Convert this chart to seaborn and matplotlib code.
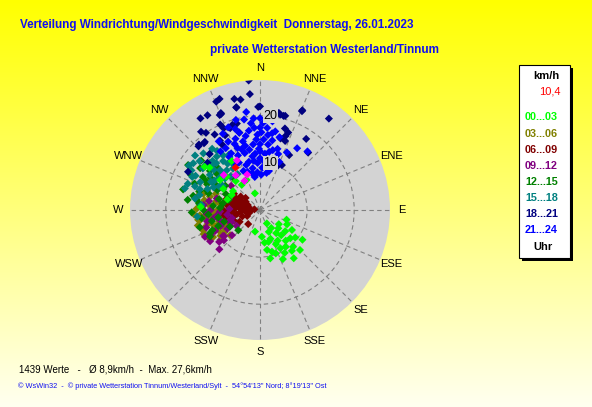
import numpy as np
import pandas as pd
import seaborn as sns
import matplotlib.pyplot as plt
from matplotlib.patches import Rectangle

# Messwerte (Windrichtung in Grad, Geschwindigkeit km/h) je Zeitabschnitt
pts_00_03 = [(110, 6), (122, 8), (170, 8.6), (164, 9.2), (152, 9.2), (133, 8.8), (176, 5.7),
             (153, 3.2), (193, 4.7), (145, 6), (140, 7), (150, 7.5), (135, 5.5), (160, 6.5),
             (155, 8), (145, 9.5), (138, 10.5), (128, 9.5), (158, 5), (148, 4.5), (165, 7),
             (130, 7), (142, 11), (150, 10.5), (118, 6.5), (127, 5), (168, 10.5), (135, 12),
             (145, 12.5), (155, 11.5), (160, 9.8), (172, 7), (140, 8.5), (125, 11),
             (343, 3.7), (336, 7), (324, 6.6), (307, 10.6), (298, 6.8), (320, 8), (315, 10),
             (330, 12), (300, 9), (310, 14), (305, 7), (308, 14.9), (288, 7.3), (273, 12.6)]
pts_03_06 = [(261, 13.3), (265, 12.8), (268, 11), (244, 9.8), (260, 13), (256, 13.6), (230, 8.3),
             (242, 8.4), (250, 10), (255, 11.5), (262, 10), (270, 9), (275, 10.5), (280, 12),
             (285, 11), (248, 8), (258, 9), (238, 9), (233, 10.5), (252, 12.5), (266, 14),
             (278, 8.5), (290, 10), (240, 11.5), (247, 13), (273, 12.3), (283, 13.5),
             (263, 12), (271, 13.5), (276, 11), (254, 9), (245, 11), (237, 10), (250, 12.8),
             (268, 10), (281, 9.5), (259, 11), (243, 12.5), (286, 12.5), (253, 10.5), (264, 9.5)]
pts_06_09 = [(270, 2), (275, 3), (280, 4), (285, 5), (290, 6), (295, 4.5), (300, 3.5), (265, 4),
             (260, 5), (255, 6), (268, 6.5), (278, 7), (288, 7.5), (298, 6.5), (305, 5), (250, 4),
             (245, 3), (262, 3), (272, 5.5), (283, 2.5), (292, 2.8), (220, 3.9), (263, 5.7),
             (294, 4.3), (258, 7), (248, 6), (277, 1.2), (286, 3.8), (274, 4.2), (266, 7.2),
             (310, 4), (240, 5), (282, 6), (296, 5.6), (254, 2.5), (280, 5), (290, 5),
             (286, 6.5), (276, 6), (271, 4), (264, 2), (292, 3.8), (300, 5), (302, 6.5), (284, 4),
             (270, 7.8), (280, 8), (262, 7.8), (255, 7.5), (290, 7)]
pts_09_12 = [(266, 11.4), (235, 9.6), (243, 11.7), (234, 9.4), (256, 8.8), (250, 7), (260, 10),
             (247, 6.5), (240, 8), (232, 11), (228, 8), (238, 12.5), (245, 10.5), (252, 12),
             (258, 11.5), (264, 9), (270, 10.5), (275, 12), (280, 11), (285, 9.5), (242, 7.2),
             (236, 6), (248, 9), (254, 6.2), (262, 7), (268, 8.5), (230, 10), (226, 12),
             (244, 13), (272, 6.5), (300, 9), (310, 8), (290, 7)]
pts_12_15 = [(285, 16.9), (254, 13.3), (247, 11), (242, 12), (279, 13.6), (302, 18), (310, 16.3),
             (227, 6.3), (241, 7.3), (245, 11.7), (290, 12), (295, 10), (300, 11), (305, 9),
             (285, 9), (275, 10), (270, 12), (265, 11), (280, 8), (300, 14), (310, 12), (315, 13),
             (292, 15), (260, 9), (252, 8), (288, 11.5), (298, 13), (305, 15.5), (320, 9),
             (268, 14.5), (282, 14.5), (276, 13), (287, 13.5), (296, 12.5), (303, 12.5),
             (312, 10.5), (295, 8), (288, 7), (273, 8.5), (262, 12.5), (257, 10.5), (249, 9.5),
             (278, 15.5), (297, 16.5), (308, 13.5)]
pts_15_18 = [(305, 17.3), (302, 17.8), (286, 16.6), (290, 16.3), (290, 14.7), (284, 13.2),
             (264, 13.4), (317, 13.6), (321, 14.6), (310, 15), (315, 12), (320, 11), (325, 12),
             (312, 10), (300, 12), (305, 13), (295, 14), (308, 11), (318, 16), (322, 16.5),
             (298, 15.5), (326, 14), (330, 11), (313, 14), (303, 9.5), (328, 9), (296, 11),
             (292, 12), (310, 18), (315, 17), (280, 14), (275, 12.5), (300, 10), (306, 15),
             (311, 13), (316, 14.5), (323, 13), (319, 9.5), (327, 10.5), (296, 16), (289, 13.5),
             (300, 16.8), (309, 16.5), (314, 11), (303, 11.5), (324, 15.5), (331, 13.5)]
pts_18_21 = [(355, 27.6), (340, 25.1), (347, 24.2), (350, 23.8), (347, 22.3), (327, 23.2),
             (331, 23), (23, 22.8), (37, 24.3), (11, 21), (14, 20.6), (40, 15.9), (19, 16.6),
             (20, 17.5), (16, 15.8), (317, 19), (320, 18.5), (26, 10.6), (28, 13.2), (335, 20),
             (342, 19), (0, 22), (338, 22), (325, 20), (330, 17), (318, 16), (312, 15),
             (345, 17), (33, 18), (338, 24.8), (17, 18.1), (337, 21.9), (316, 18.8),
             (321, 18.6), (22, 10.2), (355, 24.7), (298, 17.3), (338, 22.2), (347, 22.4),
             (359, 21.9), (12, 20.7), (15, 20.7), (23, 23), (20, 15.6), (323, 20.8), (329, 18.7),
             (335, 17.5), (340, 18.5), (345, 19), (330, 16), (336, 19)]
pts_21_24 = [(350, 13), (355, 12), (345, 12.5), (0, 14), (5, 12), (358, 16), (352, 17), (346, 15),
             (340, 14), (10, 15), (12, 13), (5, 17.5), (2, 18.5), (356, 19.5), (350, 19.5),
             (343, 18), (335, 16), (15, 16), (14, 11), (12, 10), (3, 9), (357, 10), (350, 9),
             (343, 10), (336, 11), (330, 13), (326, 15), (352, 21), (345, 19.8), (339, 18.8),
             (8, 9.5), (0, 11), (354, 14), (6, 16), (22, 11), (351, 7.1), (348, 8), (342, 8.5),
             (10, 8), (345, 17), (0, 17.5), (7, 14), (11, 17), (16, 13.5), (333, 13.5),
             (329, 17), (338, 12.5), (353, 10.5), (4, 10.5), (9, 12.5), (359, 13), (347, 14),
             (341, 16), (0, 19.5), (357, 15), (3, 15), (9, 16.5), (349, 16), (343, 13.5),
             (0, 12.5), (6, 11), (352, 11.5), (347, 10.5), (354, 18.5), (339, 15), (1, 16.5),
             (356, 17.5), (331, 15), (334, 18), (39, 16), (31, 15.3), (25, 13.5), (18, 12.5),
             (356, 8), (2, 7.5), (13, 8.5), (8, 19), (332, 11), (337, 9)]
pts_letzte = [(335, 11.6), (332, 7), (314, 10.7), (325, 9), (340, 8)]
pts_aktuell = [(330, 10.4)]

zeit_labels = ['00...03', '03...06', '06...09', '09...12', '12...15', '15...18', '18...21', '21...24']
zeit_farben = ['#00ff00', '#808000', '#800000', '#800080', '#008000', '#008080', '#000080', '#0000ff']
richtungen = ['N', 'NNE', 'NE', 'ENE', 'E', 'ESE', 'SE', 'SSE',
              'S', 'SSW', 'SW', 'WSW', 'W', 'WNW', 'NW', 'NNW']
ringe = [10, 20]
max_kmh = 27.6
aktuell_text = '10,4'

gruppen = dict(zip(zeit_labels, [pts_00_03, pts_03_06, pts_06_09, pts_09_12,
                                 pts_12_15, pts_15_18, pts_18_21, pts_21_24]))
gruppen['letzte'] = pts_letzte
gruppen['aktuell'] = pts_aktuell
palette = dict(zip(zeit_labels, zeit_farben))
palette['letzte'] = '#ff00ff'
palette['aktuell'] = '#ff0000'

# Zeichenreihenfolge: die frühen Werte (00...03) liegen sichtbar obenauf
reihenfolge = zeit_labels[1:] + [zeit_labels[0], 'letzte', 'aktuell']
frames = []
for name in reihenfolge:
    d = pd.DataFrame(gruppen[name], columns=['grad', 'kmh'])
    d['zeit'] = name
    frames.append(d)
df = pd.concat(frames, ignore_index=True)
df['theta'] = np.deg2rad(df['grad'])

W, H = 592, 407
fig = plt.figure(figsize=(W / 100, H / 100), dpi=100)


def fx(x):
    return x / W


def fy(y):
    return 1 - y / H


# Hintergrund: gelber Verlauf
bg = fig.add_axes([0, 0, 1, 1], zorder=0)
grad = np.linspace(0, 1, 256).reshape(-1, 1)
rgb = np.ones((256, 1, 3))
rgb[:, 0, 2] = grad[:, 0] * 0.94
bg.imshow(rgb, aspect='auto', extent=[0, 1, 0, 1])
bg.axis('off')

# Polardiagramm
cx, cy, rad = 260, 210, 130
flaeche = '#d3d3d3'
ax = fig.add_axes([fx(cx - rad), fy(cy + rad), 2 * rad / W, 2 * rad / H],
                  projection='polar', zorder=1)
ax.set_facecolor(flaeche)
ax.set_theta_zero_location('N')
ax.set_theta_direction(-1)

sns.scatterplot(data=df, x='theta', y='kmh', hue='zeit', palette=palette,
                marker='D', s=17, linewidth=0, legend=False, ax=ax, zorder=3)
ax.set_xlabel('')
ax.set_ylabel('')
ax.set_ylim(0, max_kmh)
ax.spines['polar'].set_visible(False)
ax.set_thetagrids(np.arange(0, 360, 22.5), labels=[''] * 16)
ax.set_rgrids(ringe, labels=[''] * len(ringe))
ax.grid(True, color='#808080', linestyle=(0, (4, 3)), linewidth=0.8)
ax.tick_params(axis='both', length=0)

for i, name in enumerate(richtungen):
    ax.text(np.deg2rad(i * 22.5), max_kmh * 1.092, name, ha='center', va='center',
            fontsize=8, family='Liberation Sans', clip_on=False)
for r in ringe:
    ax.annotate(str(r), xy=(0, r), xytext=(7.5, 0), textcoords='offset points',
                ha='center', va='center', fontsize=9, family='Liberation Sans', zorder=10,
                bbox=dict(facecolor=flaeche, edgecolor='none', pad=0.6))

# Titel
blau = '#1010f0'
fig.text(fx(20), fy(25), 'Verteilung Windrichtung/Windgeschwindigkeit  Donnerstag, 26.01.2023',
         color=blau, fontsize=8.4, weight='bold', family='Liberation Sans', va='center', ha='left')
fig.text(fx(210), fy(50), 'private Wetterstation Westerland/Tinnum',
         color=blau, fontsize=8.5, weight='bold', family='Liberation Sans', va='center', ha='left')

# Legende
fig.add_artist(Rectangle((fx(522), fy(261)), (570 - 519) / W, (258 - 65) / H,
                         transform=fig.transFigure, facecolor='black', edgecolor='none', zorder=5))
fig.add_artist(Rectangle((fx(519), fy(258)), (570 - 519) / W, (258 - 65) / H,
                         transform=fig.transFigure, facecolor='white', edgecolor='black',
                         linewidth=0.8, zorder=6))
fig.text(fx(546), fy(76), 'km/h', fontsize=8, weight='bold', family='Liberation Sans',
         ha='center', va='center', zorder=7)
fig.text(fx(561), fy(91), aktuell_text, fontsize=8, color='red', family='Liberation Sans',
         ha='right', va='center', zorder=7)
for i, (lab, col) in enumerate(zip(zeit_labels, zeit_farben)):
    fig.text(fx(525), fy(117.5 + i * 16.1), lab, fontsize=7.8, weight='bold', color=col,
             family='Liberation Sans', ha='left', va='center', zorder=7)
fig.text(fx(543), fy(247.5), 'Uhr', fontsize=8, weight='bold', family='Liberation Sans',
         ha='center', va='center', zorder=7)

# Fusszeilen
fig.text(fx(19), fy(369), '1439 Werte   -   Ø 8,9km/h  -  Max. 27,6km/h', fontsize=7,
         family='Liberation Sans', ha='left', va='center')
fig.text(fx(18), fy(386), '© WsWin32  -  © private Wetterstation Tinnum/Westerland/Sylt  -  '
         '54°54\'13" Nord; 8°19\'13" Ost', fontsize=5.3, color=blau, family='Liberation Sans',
         ha='left', va='center')

fig.savefig('out.png', dpi=100)
